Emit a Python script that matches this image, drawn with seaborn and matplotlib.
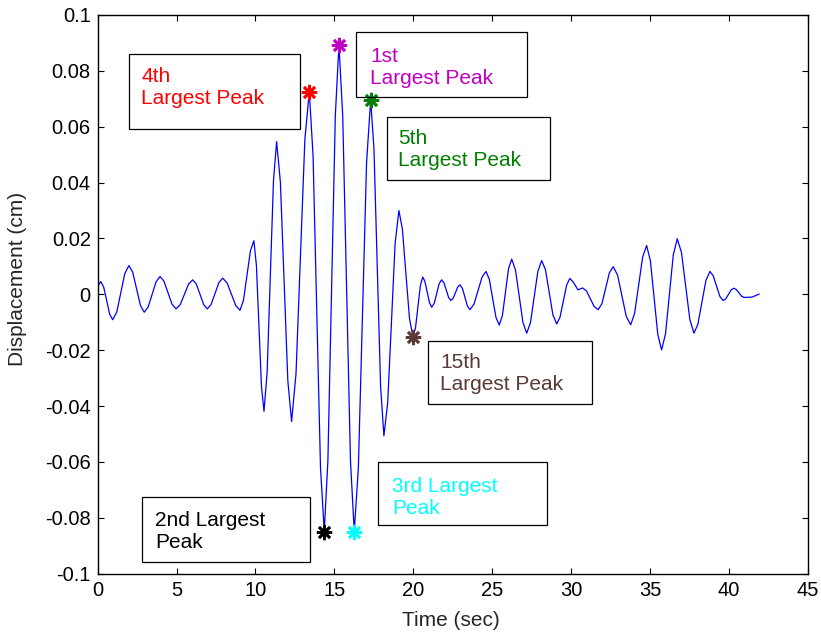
import numpy as np
import pandas as pd
import matplotlib
matplotlib.use("Agg")
import matplotlib.pyplot as plt
import seaborn as sns
from matplotlib.patches import Rectangle

# displacement record (turning points plus flank points)
time_sec = [0.00, 0.19, 0.38, 0.76, 0.95, 1.21, 1.72, 1.98, 2.22, 2.71,
            2.95, 3.20, 3.70, 3.95, 4.20, 4.71, 4.96, 5.23, 5.76, 6.02,
            6.25, 6.72, 6.95, 7.19, 7.68, 7.92, 8.20, 8.75, 9.02, 9.24,
            9.68, 9.90, 10.06, 10.38, 10.54, 10.74, 11.14, 11.34, 11.58, 12.05,
            12.29, 12.57, 13.13, 13.41, 13.65, 14.12, 14.36, 14.59, 15.06, 15.29,
            15.53, 16.02, 16.26, 16.52, 17.04, 17.30, 17.51, 17.93, 18.14, 18.38,
            18.85, 19.09, 19.31, 19.76, 19.98, 20.14, 20.45, 20.60, 20.74, 21.03,
            21.17, 21.33, 21.64, 21.80, 21.95, 22.24, 22.39, 22.53, 22.82, 22.96,
            23.12, 23.43, 23.59, 23.85, 24.36, 24.61, 24.82, 25.24, 25.45, 25.65,
            26.04, 26.24, 26.48, 26.95, 27.19, 27.43, 27.90, 28.14, 28.38, 28.85,
            29.09, 29.30, 29.72, 29.93, 30.15, 30.44, 30.73, 30.98, 31.47, 31.72,
            31.96, 32.43, 32.67, 32.95, 33.50, 33.78, 34.03, 34.54, 34.79, 35.03,
            35.50, 35.74, 35.99, 36.48, 36.73, 37.00, 37.53, 37.79, 38.04, 38.55,
            38.80, 39.01, 39.43, 39.64, 39.81, 40.15, 40.32, 40.48, 40.80, 40.96,
            41.46, 41.93]
disp_cm = [0.0028, 0.0046, 0.0026, -0.0071, -0.0091, -0.0063, 0.0075, 0.0103, 0.0079, -0.0040,
           -0.0064, -0.0045, 0.0045, 0.0064, 0.0047, -0.0035, -0.0052, -0.0037, 0.0037, 0.0052,
           0.0037, -0.0037, -0.0052, -0.0036, 0.0042, 0.0058, 0.0041, -0.0040, -0.0057, -0.0021,
           0.0156, 0.0192, 0.0103, -0.0330, -0.0419, -0.0278, 0.0406, 0.0547, 0.0401, -0.0309,
           -0.0455, -0.0283, 0.0554, 0.0726, 0.0496, -0.0619, -0.0849, -0.0595, 0.0639, 0.0893,
           0.0639, -0.0595, -0.0849, -0.0623, 0.0470, 0.0696, 0.0521, -0.0330, -0.0506, -0.0388,
           0.0182, 0.0300, 0.0234, -0.0086, -0.0152, -0.0121, 0.0031, 0.0062, 0.0046, -0.0030,
           -0.0046, -0.0032, 0.0038, 0.0052, 0.0041, -0.0011, -0.0022, -0.0014, 0.0026, 0.0034,
           0.0021, -0.0042, -0.0055, -0.0035, 0.0062, 0.0082, 0.0054, -0.0082, -0.0110, -0.0076,
           0.0092, 0.0126, 0.0087, -0.0100, -0.0139, -0.0101, 0.0083, 0.0121, 0.0088, -0.0073,
           -0.0106, -0.0082, 0.0033, 0.0057, 0.0043, 0.0016, 0.0023, 0.0012, -0.0044, -0.0055,
           -0.0033, 0.0077, 0.0099, 0.0069, -0.0079, -0.0109, -0.0068, 0.0134, 0.0175, 0.0120,
           -0.0144, -0.0199, -0.0141, 0.0141, 0.0199, 0.0150, -0.0090, -0.0139, -0.0107, 0.0050,
           0.0082, 0.0067, -0.0007, -0.0022, -0.0016, 0.0016, 0.0022, 0.0017, -0.0006, -0.0011,
           -0.0010, 0.0001]

# marked peaks
peak_names = ["4th\nLargest Peak", "1st\nLargest Peak", "5th\nLargest Peak",
              "15th\nLargest Peak", "3rd Largest\nPeak", "2nd Largest\nPeak"]
peak_times = [13.41, 15.29, 17.30, 19.98, 16.26, 14.36]
peak_values = [0.0726, 0.0893, 0.0696, -0.0152, -0.0849, -0.0849]
peak_colors = ["#FF0000", "#C000C0", "#008000", "#5A3A34", "#00FFFF", "#000000"]

df = pd.DataFrame({"t": time_sec, "d": disp_cm})

sns.set_style("ticks")
plt.rcParams["font.family"] = ["Liberation Sans", "DejaVu Sans"]

W, H = 821, 634
fig = plt.figure(figsize=(W / 100, H / 100), dpi=100)
ax = fig.add_axes([97.7 / W, 1 - 573.7 / H, 710 / W, 558.7 / H])

sns.lineplot(data=df, x="t", y="d", ax=ax, color="#0000FF", linewidth=0.9,
             sort=False, estimator=None)

for t, v, c in zip(peak_times, peak_values, peak_colors):
    ax.plot(t, v, marker=(8, 2, 0), markersize=11, markeredgewidth=1.9,
            color=c, linestyle="none")

ax.set_xlim(0, 45)
ax.set_ylim(-0.1, 0.1)
ax.set_xticks(np.arange(0, 46, 5))
ax.set_yticks(np.arange(-0.1, 0.1001, 0.02))
ax.set_yticklabels(["-0.1", "-0.08", "-0.06", "-0.04", "-0.02", "0",
                    "0.02", "0.04", "0.06", "0.08", "0.1"])
ax.tick_params(direction="in", top=True, right=True, length=4, width=0.8,
               labelsize=14.5, pad=5, colors="black")
for s in ax.spines.values():
    s.set_visible(True)
    s.set_linewidth(1.0)
    s.set_color("black")

ax.set_xlabel("Time (sec)", fontsize=15)
ax.set_ylabel("Displacement (cm)", fontsize=15)
ax.xaxis.set_label_coords(0.497, -0.067)
ax.yaxis.set_label_coords(-0.099, 0.528)

# text boxes: (left, top, right, bottom) in pixels, text left, text centre
boxes = [
    (129.3, 54.0, 300.0, 129.3, 141, 88),
    (355.7, 31.7, 526.7, 96.7, 370, 67),
    (386.7, 116.7, 550.0, 180.0, 398, 150),
    (427.7, 340.7, 591.7, 404.0, 440, 374),
    (378.3, 461.7, 546.7, 525.0, 392, 497),
    (141.7, 497.3, 310.0, 561.7, 155, 532),
]
for (l, tp, r, b, tx, ty), name, c in zip(boxes, peak_names, peak_colors):
    fig.add_artist(Rectangle((l / W, 1 - b / H), (r - l) / W, (b - tp) / H,
                             transform=fig.transFigure, fill=False,
                             edgecolor="black", linewidth=0.9))
    fig.text(tx / W, 1 - ty / H, name, color=c, fontsize=15,
             ha="left", va="center", linespacing=1.2)

fig.savefig("out.png", dpi=100)
